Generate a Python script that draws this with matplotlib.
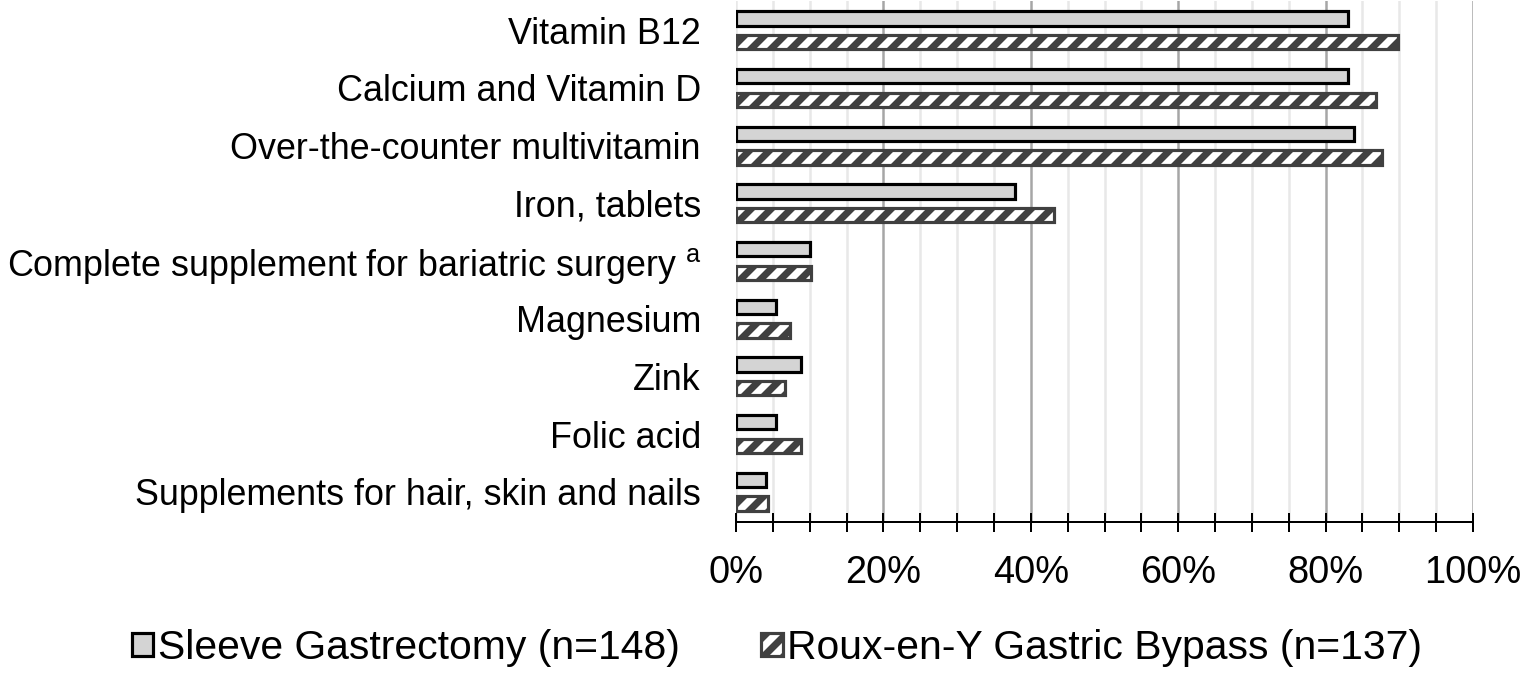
import numpy as np
import matplotlib
matplotlib.use("Agg")
import matplotlib.pyplot as plt

plt.rcParams["font.family"] = ["Liberation Sans", "DejaVu Sans"]
plt.rcParams["mathtext.fontset"] = "custom"
plt.rcParams["mathtext.rm"] = "Liberation Sans"
plt.rcParams["hatch.linewidth"] = 4.2

categories = [
    "Vitamin B12",
    "Calcium and Vitamin D",
    "Over-the-counter multivitamin",
    "Iron, tablets",
    "Complete supplement for bariatric surgery $^{\\mathrm{a}}$",
    "Magnesium",
    "Zink",
    "Folic acid",
    "Supplements for hair, skin and nails",
]
sleeve = [83.1, 83.1, 83.8, 37.8, 10.1, 5.4, 8.8, 5.4, 4.1]
bypass = [89.8, 86.9, 87.6, 43.1, 10.2, 7.3, 6.6, 8.8, 4.4]
series_labels = ["Sleeve Gastrectomy (n=148)", "Roux-en-Y Gastric Bypass (n=137)"]
tick_vals = [0, 20, 40, 60, 80, 100]
tick_labels = ["0%", "20%", "40%", "60%", "80%", "100%"]

DPI = 120
fig = plt.figure(figsize=(1524 / DPI, 676 / DPI), dpi=DPI)
ax = fig.add_axes([736 / 1524, 1 - 522.3 / 676, (1473 - 736) / 1524, (522.3 - 1.35) / 676])

y = np.arange(len(categories))
h = 0.25
off = 0.205
b1 = ax.barh(y - off, sleeve, height=h, color="#d4d4d4", edgecolor="black",
             linewidth=1.9, label=series_labels[0], zorder=3)
b2 = ax.barh(y + off, bypass, height=h, color="white", edgecolor="#404040",
             hatch="//", linewidth=1.9, label=series_labels[1], zorder=3)

ax.set_ylim(len(categories) - 1 + 0.53, -0.5)
ax.set_xlim(0, 100)
ax.set_yticks(y)
ax.set_yticklabels(categories, fontsize=21.5)
ax.tick_params(axis="y", length=0, pad=21)

ax.set_xticks(tick_vals)
ax.set_xticklabels(tick_labels, fontsize=22.8)
ax.set_xticks(np.arange(0, 101, 5), minor=True)
ax.tick_params(axis="x", which="both", direction="inout", length=11.4,
               width=1.2, color="black", pad=14)

ax.set_axisbelow(True)
ax.grid(True, axis="x", which="minor", color="#e8e8e8", linewidth=1.5)
ax.grid(True, axis="x", which="major", color="#a6a6a6", linewidth=1.5)
ax.get_xgridlines()[0].set_color("#e8e8e8")

for s in ["top", "right", "left"]:
    ax.spines[s].set_visible(False)
ax.spines["bottom"].set_linewidth(1.2)
ax.spines["bottom"].set_zorder(4)

fig.legend(handles=[b1, b2], loc="center", bbox_to_anchor=(777 / 1524, 1 - 648 / 676),
           ncol=2, frameon=False, fontsize=24.5, handlelength=0.52,
           handleheight=0.52, handletextpad=0.12, columnspacing=2.0)

fig.savefig("out.png", dpi=DPI)
